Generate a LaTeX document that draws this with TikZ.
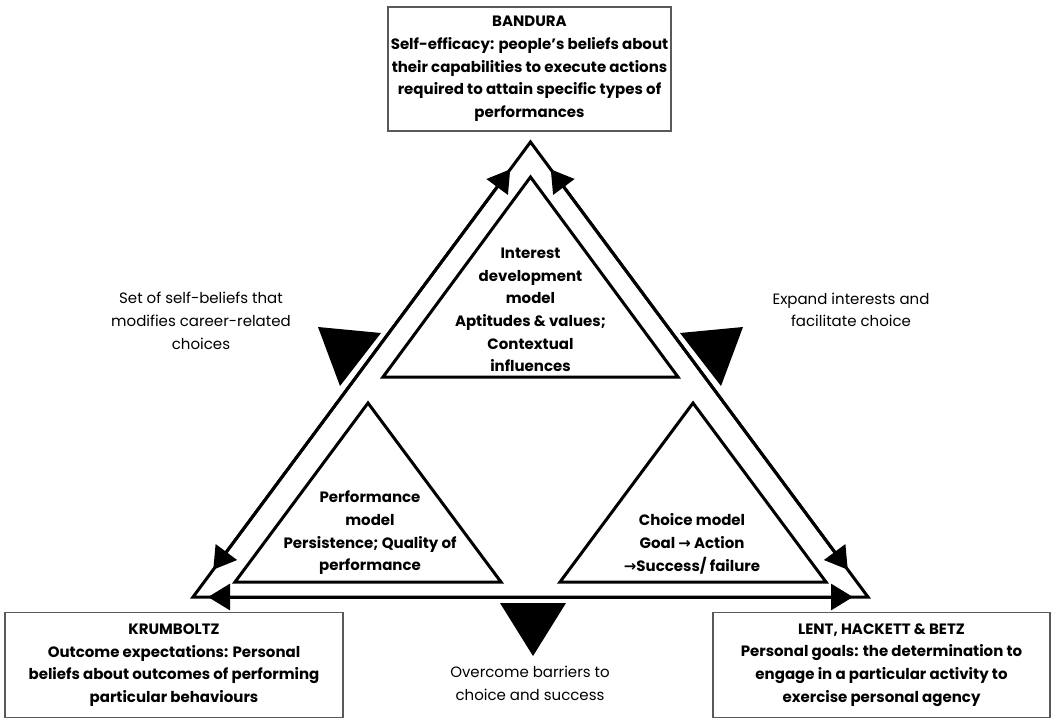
\documentclass[tikz,border=0pt]{standalone}
\usepackage{fontspec}
\setmainfont{Poppins}
\newfontfamily\arrowfont{DejaVu Sans}
\usetikzlibrary{arrows.meta,calc}

\begin{document}
\begin{tikzpicture}[x=1pt,y=-1pt,
  band/.style={line width=3pt,line join=miter},
  edgearrow/.style={line width=3pt,{Triangle[length=22pt,width=26pt]}-{Triangle[length=22pt,width=26pt]}},
  modeltri/.style={line width=3pt,line join=miter},
  marker/.style={fill=black},
  theorybox/.style={draw=black!65,line width=1.2pt,align=center,inner sep=0pt,
    font=\bfseries\fontsize{15}{22.7}\selectfont},
  modeltext/.style={align=center,inner sep=0pt,font=\bfseries\fontsize{15}{22.7}\selectfont},
  linktext/.style={align=center,inner sep=0pt,font=\fontsize{15}{22.7}\selectfont}]
\useasboundingbox (0,0) rectangle (1054,720);

\coordinate (apex) at (530.5,142);
\coordinate (leftcorner) at (193,597);
\coordinate (rightcorner) at (868,597);

\draw[band] (apex) -- (leftcorner) -- (rightcorner) -- cycle;
\coordinate (l1) at ($(leftcorner)!34pt!(apex)$);
\coordinate (l2) at ($(apex)!34pt!(leftcorner)$);
\coordinate (r1) at ($(apex)!34pt!(rightcorner)$);
\coordinate (r2) at ($(rightcorner)!34pt!(apex)$);
\coordinate (b1) at ($(leftcorner)!15pt!(rightcorner)$);
\coordinate (b2) at ($(rightcorner)!15pt!(leftcorner)$);
\draw[edgearrow] (l1) -- (l2);
\draw[edgearrow] (r1) -- (r2);
\draw[edgearrow] (b1) -- (b2);

\draw[modeltri] (530.5,177) -- (383,377) -- (678,377) -- cycle;
\draw[modeltri] (368,403) -- (235,582) -- (501,582) -- cycle;
\draw[modeltri] (693,403) -- (560,582) -- (826,582) -- cycle;

\fill[marker] (318,327) -- (381,333) -- (340,386) -- cycle;
\fill[marker] (680,333) -- (743,327) -- (721,386) -- cycle;
\fill[marker] (500,603) -- (566,603) -- (533,656) -- cycle;

\node[theorybox,minimum width=283pt,minimum height=124pt] (bandura) at (529.5,69)
  {BANDURA\\Self-efficacy: people’s beliefs about\\their capabilities to execute actions\\required to attain specific types of\\performances};
\node[theorybox,minimum width=338pt,minimum height=105pt] (krumboltz) at (174,665)
  {KRUMBOLTZ\\Outcome expectations: Personal\\beliefs about outcomes of performing\\particular behaviours};
\node[theorybox,minimum width=337pt,minimum height=105pt] (lent) at (881.5,665)
  {LENT, HACKETT \& BETZ\\Personal goals: the determination to\\engage in a particular activity to\\exercise personal agency};

\node[modeltext] (interest) at (530.5,310)
  {Interest\\development\\model\\Aptitudes \& values;\\Contextual\\influences};
\node[modeltext] (performance) at (370,533)
  {Performance\\model\\Persistence; Quality of\\performance};
\node[modeltext] (choice) at (692,544)
  {Choice model\\Goal {\arrowfont →} Action\\{\arrowfont →}Success/ failure};

\node[linktext] (selfbeliefs) at (201,321)
  {Set of self-beliefs that\\modifies career-related\\choices};
\node[linktext] (expand) at (851,310)
  {Expand interests and\\facilitate choice};
\node[linktext] (barriers) at (530,683)
  {Overcome barriers to\\choice and success};
\end{tikzpicture}
\end{document}
